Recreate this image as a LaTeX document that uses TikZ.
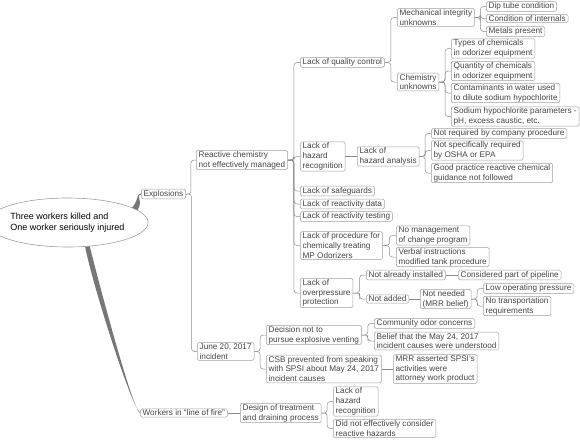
\documentclass[tikz,border=0pt]{standalone}
\usepackage{fontspec}
\setmainfont{Liberation Sans}
\usetikzlibrary{calc,positioning,shapes.geometric}
\definecolor{mapInk}{RGB}{70,70,70}
\definecolor{mapLine}{RGB}{140,140,140}
\definecolor{mapBorder}{RGB}{160,160,160}
\definecolor{mapTrunk}{RGB}{118,118,118}

\begin{document}
\begin{tikzpicture}[
  x=1pt,y=-1pt,
  font=\fontsize{8.2}{9.8}\selectfont,
  topic/.style={draw=mapBorder,line width=0.5pt,rounded corners=1.5pt,fill=white,align=left,inner xsep=2.4pt,inner ysep=1pt,text=mapInk,anchor=west},
  central/.style={ellipse,draw=mapBorder,line width=0.6pt,fill=white,align=left,minimum width=135pt,minimum height=49pt,inner sep=0pt,font=\fontsize{9}{11.5}\selectfont,text=black},
  link/.style={draw=mapLine,line width=0.5pt,rounded corners=3pt,
    to path={-| ($(\tikztostart)!.5!(\tikztotarget)$) |- (\tikztotarget)}},
  trunk/.style={fill=mapTrunk}
]

\fill[white] (0,0) rectangle (580,439);
\useasboundingbox (0,0) rectangle (580,439);

\node[central] (root) at (67.5,222.5) {Three workers killed and\\One worker seriously injured};

\node[topic] (expl) at (141,194) {Explosions};
\node[topic] (rcm) at (196,160) {Reactive chemistry\\not effectively managed};
\node[topic] (jun) at (197,351.5) {June 20, 2017\\incident};
\node[topic] (wlf) at (140,413) {Workers in “line of fire”};

\node[topic] (qc) at (300,62.5) {Lack of quality control};
\node[topic] (mi) at (397,17.5) {Mechanical integrity\\unknowns};
\node[topic] (dip) at (486,6.5) {Dip tube condition};
\node[topic] (coi) at (486,18.5) {Condition of internals};
\node[topic] (met) at (486,31.5) {Metals present};
\node[topic] (chu) at (397,82) {Chemistry\\unknowns};
\node[topic] (toc) at (451,48.5) {Types of chemicals\\in odorizer equipment};
\node[topic] (qoc) at (451,71) {Quantity of chemicals\\in odorizer equipment};
\node[topic] (ctw) at (451,93) {Contaminants in water used\\to dilute sodium hypochlorite};
\node[topic] (shp) at (451,116.5) {Sodium hypochlorite parameters -\\pH, excess caustic, etc.};

\node[topic] (lhr) at (300,156.5) {Lack of\\hazard\\recognition};
\node[topic] (lha) at (357,156.5) {Lack of\\hazard analysis};
\node[topic] (nrc) at (431,133.5) {Not required by company procedure};
\node[topic] (nso) at (431,150.5) {Not specifically required\\by OSHA or EPA};
\node[topic] (gpr) at (431,173) {Good practice reactive chemical\\guidance not followed};

\node[topic] (lsg) at (300,191) {Lack of safeguards};
\node[topic] (lrd) at (300,204) {Lack of reactivity data};
\node[topic] (lrt) at (300,216.5) {Lack of reactivity testing};

\node[topic] (lpc) at (300,245.5) {Lack of procedure for\\chemically treating\\MP Odorizers};
\node[topic] (nmc) at (396,235.5) {No management\\of change program};
\node[topic] (vbi) at (396,257) {Verbal instructions\\modified tank procedure};

\node[topic] (lop) at (300,293) {Lack of\\overpressure\\protection};
\node[topic] (nai) at (366,275) {Not already installed};
\node[topic] (cpp) at (458,275) {Considered part of pipeline};
\node[topic] (nad) at (366,299) {Not added};
\node[topic] (nnd) at (420,299) {Not needed\\(MRR belief)};
\node[topic] (lowp) at (483,288.5) {Low operating pressure};
\node[topic] (ntr) at (483,306) {No transportation\\requirements};

\node[topic] (dnp) at (266,335) {Decision not to\\pursue explosive venting};
\node[topic] (coc) at (374,323.5) {Community odor concerns};
\node[topic] (btm) at (374,341) {Belief that the May 24, 2017\\incident causes were understood};
\node[topic] (csb) at (266,369) {CSB prevented from speaking\\with SPSI about May 24, 2017\\incident causes};
\node[topic] (mrr) at (393,369) {MRR asserted SPSI's\\activities were\\attorney work product};

\node[topic] (dtd) at (240,413) {Design of treatment\\and draining process};
\node[topic] (lhrb) at (333,401.5) {Lack of\\hazard\\recognition};
\node[topic] (dne) at (333,428.5) {Did not effectively consider\\reactive hazards};

% tapered main branches
\fill[trunk] (root.13) .. controls +(7,-8) and +(-5,0) .. ([yshift=0.5pt]expl.west)
  -- ([yshift=-0.5pt]expl.west) .. controls +(-6,0) and +(6,-9) .. (root.10) -- cycle;
\fill[trunk] (root.-47) .. controls +(10,40) and +(-8,-6) .. ([yshift=-0.4pt]wlf.west)
  -- ([yshift=0.4pt]wlf.west) .. controls +(-9,-7) and +(8,40) .. (root.-54) -- cycle;

\foreach \c in {rcm,jun} \draw[link] (expl.east) to (\c.west);
\foreach \c in {qc,lhr,lsg,lrd,lrt,lpc,lop} \draw[link] (rcm.east) to (\c.west);
\foreach \c in {mi,chu} \draw[link] (qc.east) to (\c.west);
\foreach \c in {dip,coi,met} \draw[link] (mi.east) to (\c.west);
\foreach \c in {toc,qoc,ctw,shp} \draw[link] (chu.east) to (\c.west);
\draw[link] (lhr.east) -- (lha.west);
\foreach \c in {nrc,nso,gpr} \draw[link] (lha.east) to (\c.west);
\foreach \c in {nmc,vbi} \draw[link] (lpc.east) to (\c.west);
\foreach \c in {nai,nad} \draw[link] (lop.east) to (\c.west);
\draw[link] (nai.east) -- (cpp.west);
\draw[link] (nad.east) -- (nnd.west);
\foreach \c in {lowp,ntr} \draw[link] (nnd.east) to (\c.west);
\foreach \c in {dnp,csb} \draw[link] (jun.east) to (\c.west);
\foreach \c in {coc,btm} \draw[link] (dnp.east) to (\c.west);
\draw[link] (csb.east) -- (mrr.west);
\draw[link] (wlf.east) -- (dtd.west);
\foreach \c in {lhrb,dne} \draw[link] (dtd.east) to (\c.west);

\end{tikzpicture}
\end{document}
